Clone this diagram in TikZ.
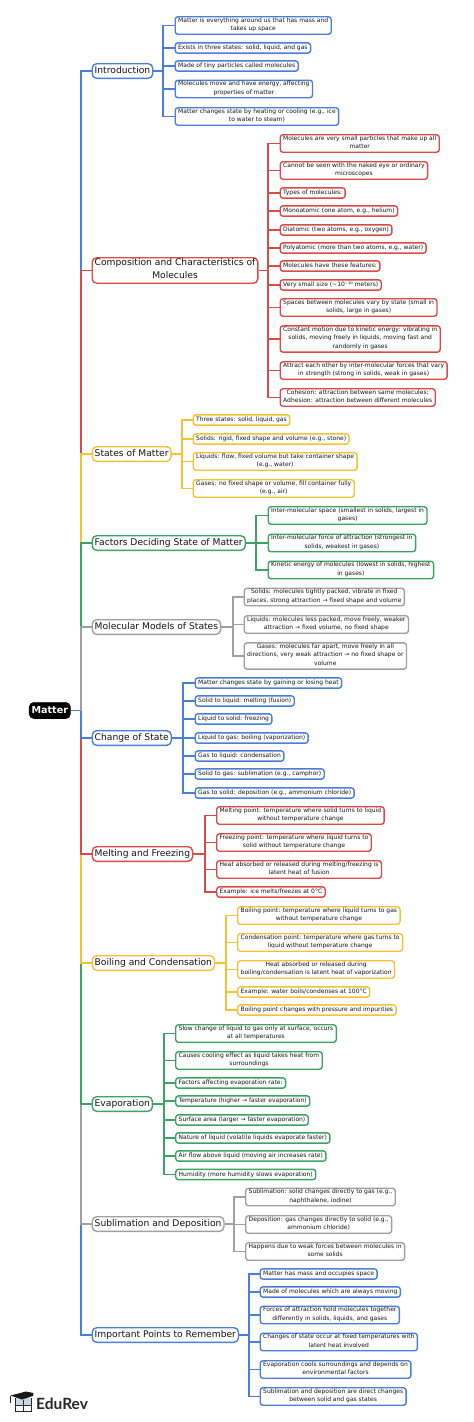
\documentclass[tikz,border=0pt]{standalone}
\usepackage{fontspec}
\setmainfont{DejaVu Sans}
\newfontfamily\logofont{Lato}
\definecolor{mapblue}{HTML}{4A7FD9}
\definecolor{mapred}{HTML}{DB4B46}
\definecolor{mapyellow}{HTML}{F5C232}
\definecolor{mapgreen}{HTML}{3AA563}
\definecolor{mapgrey}{HTML}{A0A0A0}
\definecolor{maptext}{HTML}{141418}
\definecolor{logopage}{HTML}{C9D6E6}

\begin{document}
\begin{tikzpicture}[x=1pt,y=-1pt,
  leaf/.style={draw, rounded corners=2.8pt, line width=1.4pt, anchor=west, align=center, inner xsep=3pt, inner ysep=0.8pt, text=maptext, font=\fontsize{6}{8.75}\selectfont, execute at begin node=\strut, execute at end node=\strut},
  topic/.style={draw, rounded corners=4.5pt, line width=1.4pt, anchor=west, align=center, inner xsep=2.5pt, inner ysep=0.8pt, text=maptext, font=\fontsize{9.17}{13}\selectfont, execute at begin node=\strut, execute at end node=\strut},
  wire/.style={line width=1.6pt}]
\useasboundingbox (0,0) rectangle (474,1422);

% Root and the branches down its left side
\node[draw=black, fill=black, rounded corners=5pt, text=white, font=\fontsize{9.6}{12}\bfseries\selectfont, inner xsep=2.5pt, inner ysep=1.5pt, minimum width=41pt, minimum height=16.5pt] (matter) at (49.8,710.5) {Matter};
\coordinate (trunk) at (81,710.5);

\node[topic, draw=mapblue] (intro) at (91.5,71) {Introduction};
\node[topic, draw=mapred] (comp) at (91.5,270.5) {Composition and Characteristics of\\Molecules};
\node[topic, draw=mapyellow] (states) at (91.5,454) {States of Matter};
\node[topic, draw=mapgreen] (factors) at (91.5,543) {Factors Deciding State of Matter};
\node[topic, draw=mapgrey] (models) at (91.5,627) {Molecular Models of States};
\node[topic, draw=mapblue] (change) at (91.5,738) {Change of State};
\node[topic, draw=mapred] (melt) at (91.5,854) {Melting and Freezing};
\node[topic, draw=mapyellow] (boil) at (91.5,963) {Boiling and Condensation};
\node[topic, draw=mapgreen] (evap) at (91.5,1104) {Evaporation};
\node[topic, draw=mapgrey] (subl) at (91.5,1224) {Sublimation and Deposition};
\node[topic, draw=mapblue] (points) at (91.5,1335) {Important Points to Remember};

% Trunk: later segments lie over earlier ones
\draw[wire, mapblue] (matter.east) -- (trunk);
\draw[wire, mapblue] (trunk) |- (intro.west);
\draw[wire, mapred] (trunk) |- (comp.west);
\draw[wire, mapyellow] (trunk) |- (states.west);
\draw[wire, mapgreen] (trunk) |- (factors.west);
\draw[wire, mapgrey] (trunk) |- (models.west);
\draw[wire, mapblue] (trunk) |- (points.west);
\draw[wire, mapgrey] (trunk) |- (subl.west);
\draw[wire, mapgreen] (trunk) |- (evap.west);
\draw[wire, mapyellow] (trunk) |- (boil.west);
\draw[wire, mapred] (trunk) |- (melt.west);
\draw[wire, mapblue] (trunk) |- (change.west);

% Introduction
\node[leaf, draw=mapblue] (intro1) at (174.5,25.5) {Matter is everything around us that has mass and\\takes up space};
\node[leaf, draw=mapblue] (intro2) at (174.5,48) {Exists in three states: solid, liquid, and gas};
\node[leaf, draw=mapblue] (intro3) at (174.5,66) {Made of tiny particles called molecules};
\node[leaf, draw=mapblue] (intro4) at (174.5,89) {Molecules move and have energy, affecting\\properties of matter};
\node[leaf, draw=mapblue] (intro5) at (174.5,116.5) {Matter changes state by heating or cooling (e.g., ice\\to water to steam)};
\coordinate (introbus) at (163,71);
\draw[wire, mapblue] (intro.east) -- (introbus);
\draw[wire, mapblue] (introbus) |- (intro1.west);
\draw[wire, mapblue] (introbus) |- (intro2.west);
\draw[wire, mapblue] (introbus) |- (intro3.west);
\draw[wire, mapblue] (introbus) |- (intro4.west);
\draw[wire, mapblue] (introbus) |- (intro5.west);

% Composition and characteristics
\node[leaf, draw=mapred] (comp1) at (279.5,143.5) {Molecules are very small particles that make up all\\matter};
\node[leaf, draw=mapred] (comp2) at (279.5,170.5) {Cannot be seen with the naked eye or ordinary\\microscopes};
\node[leaf, draw=mapred] (comp3) at (279.5,193) {Types of molecules:};
\node[leaf, draw=mapred] (comp4) at (279.5,211) {Monoatomic (one atom, e.g., helium)};
\node[leaf, draw=mapred] (comp5) at (279.5,230) {Diatomic (two atoms, e.g., oxygen)};
\node[leaf, draw=mapred] (comp6) at (279.5,248) {Polyatomic (more than two atoms, e.g., water)};
\node[leaf, draw=mapred] (comp7) at (279.5,266) {Molecules have these features:};
\node[leaf, draw=mapred] (comp8) at (279.5,285) {Very small size (\textasciitilde10⁻¹⁰ meters)};
\node[leaf, draw=mapred] (comp9) at (279.5,307.5) {Spaces between molecules vary by state (small in\\solids, large in gases)};
\node[leaf, draw=mapred] (comp10) at (279.5,339) {Constant motion due to kinetic energy: vibrating in\\solids, moving freely in liquids, moving fast and\\randomly in gases};
\node[leaf, draw=mapred] (comp11) at (279.5,370.5) {Attract each other by inter-molecular forces that vary\\in strength (strong in solids, weak in gases)};
\node[leaf, draw=mapred] (comp12) at (279.5,397.5) {Cohesion: attraction between same molecules;\\Adhesion: attraction between different molecules};
\coordinate (compbus) at (268,270.5);
\draw[wire, mapred] (comp.east) -- (compbus);
\draw[wire, mapred] (compbus) |- (comp1.west);
\draw[wire, mapred] (compbus) |- (comp2.west);
\draw[wire, mapred] (compbus) |- (comp3.west);
\draw[wire, mapred] (compbus) |- (comp4.west);
\draw[wire, mapred] (compbus) |- (comp5.west);
\draw[wire, mapred] (compbus) |- (comp6.west);
\draw[wire, mapred] (compbus) |- (comp7.west);
\draw[wire, mapred] (compbus) |- (comp8.west);
\draw[wire, mapred] (compbus) |- (comp9.west);
\draw[wire, mapred] (compbus) |- (comp10.west);
\draw[wire, mapred] (compbus) |- (comp11.west);
\draw[wire, mapred] (compbus) |- (comp12.west);

% States of matter
\node[leaf, draw=mapyellow] (states1) at (192.5,420) {Three states: solid, liquid, gas};
\node[leaf, draw=mapyellow] (states2) at (192.5,439) {Solids: rigid, fixed shape and volume (e.g., stone)};
\node[leaf, draw=mapyellow] (states3) at (192.5,461.5) {Liquids: flow, fixed volume but take container shape\\(e.g., water)};
\node[leaf, draw=mapyellow] (states4) at (192.5,488.5) {Gases: no fixed shape or volume, fill container fully\\(e.g., air)};
\coordinate (statesbus) at (182,454);
\draw[wire, mapyellow] (states.east) -- (statesbus);
\draw[wire, mapyellow] (statesbus) |- (states1.west);
\draw[wire, mapyellow] (statesbus) |- (states2.west);
\draw[wire, mapyellow] (statesbus) |- (states3.west);
\draw[wire, mapyellow] (statesbus) |- (states4.west);

% Factors deciding state
\node[leaf, draw=mapgreen] (factors1) at (267.5,515.5) {Inter-molecular space (smallest in solids, largest in\\gases)};
\node[leaf, draw=mapgreen] (factors2) at (267.5,543) {Inter-molecular force of attraction (strongest in\\solids, weakest in gases)};
\node[leaf, draw=mapgreen] (factors3) at (267.5,570) {Kinetic energy of molecules (lowest in solids, highest\\in gases)};
\coordinate (factorsbus) at (256,543);
\draw[wire, mapgreen] (factors.east) -- (factorsbus);
\draw[wire, mapgreen] (factorsbus) |- (factors1.west);
\draw[wire, mapgreen] (factorsbus) |- (factors2.west);
\draw[wire, mapgreen] (factorsbus) |- (factors3.west);

% Molecular models
\node[leaf, draw=mapgrey] (models1) at (243.5,597) {Solids: molecules tightly packed, vibrate in fixed\\places, strong attraction → fixed shape and volume};
\node[leaf, draw=mapgrey] (models2) at (243.5,624.5) {Liquids: molecules less packed, move freely, weaker\\attraction → fixed volume, no fixed shape};
\node[leaf, draw=mapgrey] (models3) at (243.5,656) {Gases: molecules far apart, move freely in all\\directions, very weak attraction → no fixed shape or\\volume};
\coordinate (modelsbus) at (233,627);
\draw[wire, mapgrey] (models.east) -- (modelsbus);
\draw[wire, mapgrey] (modelsbus) |- (models1.west);
\draw[wire, mapgrey] (modelsbus) |- (models2.west);
\draw[wire, mapgrey] (modelsbus) |- (models3.west);

% Change of state
\node[leaf, draw=mapblue] (change1) at (194.5,683) {Matter changes state by gaining or losing heat};
\node[leaf, draw=mapblue] (change2) at (194.5,701) {Solid to liquid: melting (fusion)};
\node[leaf, draw=mapblue] (change3) at (194.5,719) {Liquid to solid: freezing};
\node[leaf, draw=mapblue] (change4) at (194.5,738) {Liquid to gas: boiling (vaporization)};
\node[leaf, draw=mapblue] (change5) at (194.5,756) {Gas to liquid: condensation};
\node[leaf, draw=mapblue] (change6) at (194.5,774) {Solid to gas: sublimation (e.g., camphor)};
\node[leaf, draw=mapblue] (change7) at (194.5,793) {Gas to solid: deposition (e.g., ammonium chloride)};
\coordinate (changebus) at (183,738);
\draw[wire, mapblue] (change.east) -- (changebus);
\draw[wire, mapblue] (changebus) |- (change1.west);
\draw[wire, mapblue] (changebus) |- (change2.west);
\draw[wire, mapblue] (changebus) |- (change3.west);
\draw[wire, mapblue] (changebus) |- (change4.west);
\draw[wire, mapblue] (changebus) |- (change5.west);
\draw[wire, mapblue] (changebus) |- (change6.west);
\draw[wire, mapblue] (changebus) |- (change7.west);

% Melting and freezing
\node[leaf, draw=mapred] (melt1) at (216,815.5) {Melting point: temperature where solid turns to liquid\\without temperature change};
\node[leaf, draw=mapred] (melt2) at (216,842.5) {Freezing point: temperature where liquid turns to\\solid without temperature change};
\node[leaf, draw=mapred] (melt3) at (216,869.5) {Heat absorbed or released during melting/freezing is\\latent heat of fusion};
\node[leaf, draw=mapred] (melt4) at (216,892) {Example: ice melts/freezes at 0°C};
\coordinate (meltbus) at (205,854);
\draw[wire, mapred] (melt.east) -- (meltbus);
\draw[wire, mapred] (meltbus) |- (melt1.west);
\draw[wire, mapred] (meltbus) |- (melt2.west);
\draw[wire, mapred] (meltbus) |- (melt3.west);
\draw[wire, mapred] (meltbus) |- (melt4.west);

% Boiling and condensation
\node[leaf, draw=mapyellow] (boil1) at (237,915.5) {Boiling point: temperature where liquid turns to gas\\without temperature change};
\node[leaf, draw=mapyellow] (boil2) at (237,942.5) {Condensation point: temperature where gas turns to\\liquid without temperature change};
\node[leaf, draw=mapyellow] (boil3) at (237,969.5) {Heat absorbed or released during\\boiling/condensation is latent heat of vaporization};
\node[leaf, draw=mapyellow] (boil4) at (237,992) {Example: water boils/condenses at 100°C};
\node[leaf, draw=mapyellow] (boil5) at (237,1010) {Boiling point changes with pressure and impurities};
\coordinate (boilbus) at (226,963);
\draw[wire, mapyellow] (boil.east) -- (boilbus);
\draw[wire, mapyellow] (boilbus) |- (boil1.west);
\draw[wire, mapyellow] (boilbus) |- (boil2.west);
\draw[wire, mapyellow] (boilbus) |- (boil3.west);
\draw[wire, mapyellow] (boilbus) |- (boil4.west);
\draw[wire, mapyellow] (boilbus) |- (boil5.west);

% Evaporation
\node[leaf, draw=mapgreen] (evap1) at (175,1033.5) {Slow change of liquid to gas only at surface, occurs\\at all temperatures};
\node[leaf, draw=mapgreen] (evap2) at (175,1060.5) {Causes cooling effect as liquid takes heat from\\surroundings};
\node[leaf, draw=mapgreen] (evap3) at (175,1083) {Factors affecting evaporation rate:};
\node[leaf, draw=mapgreen] (evap4) at (175,1101) {Temperature (higher → faster evaporation)};
\node[leaf, draw=mapgreen] (evap5) at (175,1120) {Surface area (larger → faster evaporation)};
\node[leaf, draw=mapgreen] (evap6) at (175,1138) {Nature of liquid (volatile liquids evaporate faster)};
\node[leaf, draw=mapgreen] (evap7) at (175,1156) {Air flow above liquid (moving air increases rate)};
\node[leaf, draw=mapgreen] (evap8) at (175,1174.5) {Humidity (more humidity slows evaporation)};
\coordinate (evapbus) at (164,1104);
\draw[wire, mapgreen] (evap.east) -- (evapbus);
\draw[wire, mapgreen] (evapbus) |- (evap1.west);
\draw[wire, mapgreen] (evapbus) |- (evap2.west);
\draw[wire, mapgreen] (evapbus) |- (evap3.west);
\draw[wire, mapgreen] (evapbus) |- (evap4.west);
\draw[wire, mapgreen] (evapbus) |- (evap5.west);
\draw[wire, mapgreen] (evapbus) |- (evap6.west);
\draw[wire, mapgreen] (evapbus) |- (evap7.west);
\draw[wire, mapgreen] (evapbus) |- (evap8.west);

% Sublimation and deposition
\node[leaf, draw=mapgrey] (subl1) at (245,1197) {Sublimation: solid changes directly to gas (e.g.,\\naphthalene, iodine)};
\node[leaf, draw=mapgrey] (subl2) at (245,1224.5) {Deposition: gas changes directly to solid (e.g.,\\ammonium chloride)};
\node[leaf, draw=mapgrey] (subl3) at (245,1251.5) {Happens due to weak forces between molecules in\\some solids};
\coordinate (sublbus) at (234,1224);
\draw[wire, mapgrey] (subl.east) -- (sublbus);
\draw[wire, mapgrey] (sublbus) |- (subl1.west);
\draw[wire, mapgrey] (sublbus) |- (subl2.west);
\draw[wire, mapgrey] (sublbus) |- (subl3.west);

% Important points
\node[leaf, draw=mapblue] (points1) at (259.5,1274) {Matter has mass and occupies space};
\node[leaf, draw=mapblue] (points2) at (259.5,1292) {Made of molecules which are always moving};
\node[leaf, draw=mapblue] (points3) at (259.5,1315) {Forces of attraction hold molecules together\\differently in solids, liquids, and gases};
\node[leaf, draw=mapblue] (points4) at (259.5,1342) {Changes of state occur at fixed temperatures with\\latent heat involved};
\node[leaf, draw=mapblue] (points5) at (259.5,1369.5) {Evaporation cools surroundings and depends on\\environmental factors};
\node[leaf, draw=mapblue] (points6) at (259.5,1396.5) {Sublimation and deposition are direct changes\\between solid and gas states};
\coordinate (pointsbus) at (249,1335);
\draw[wire, mapblue] (points.east) -- (pointsbus);
\draw[wire, mapblue] (pointsbus) |- (points1.west);
\draw[wire, mapblue] (pointsbus) |- (points2.west);
\draw[wire, mapblue] (pointsbus) |- (points3.west);
\draw[wire, mapblue] (pointsbus) |- (points4.west);
\draw[wire, mapblue] (pointsbus) |- (points5.west);
\draw[wire, mapblue] (pointsbus) |- (points6.west);

% Logo
\node[anchor=west, inner sep=0pt, font=\logofont\fontsize{15.5}{17}\bfseries\selectfont, text=black!85] (edurev) at (36,1403.5) {EduRev};
\fill[logopage] (15,1398) rectangle (31,1405);
\draw[black!85, line width=1pt] (15,1398) -- (15,1411.5) -- (31,1411.5) -- (31,1398);
\draw[black!85, line width=0.8pt] (23,1400) -- (23,1411.5) (15,1405) -- (31,1405);
\fill[black!90] (10.5,1395.5) -- (26,1391.5) -- (33.5,1393) -- (33,1396) -- (22,1399.5) -- cycle;
\draw[black!85, line width=0.6pt] (10.5,1395.5) -- (10.5,1402.5);
\end{tikzpicture}
\end{document}
